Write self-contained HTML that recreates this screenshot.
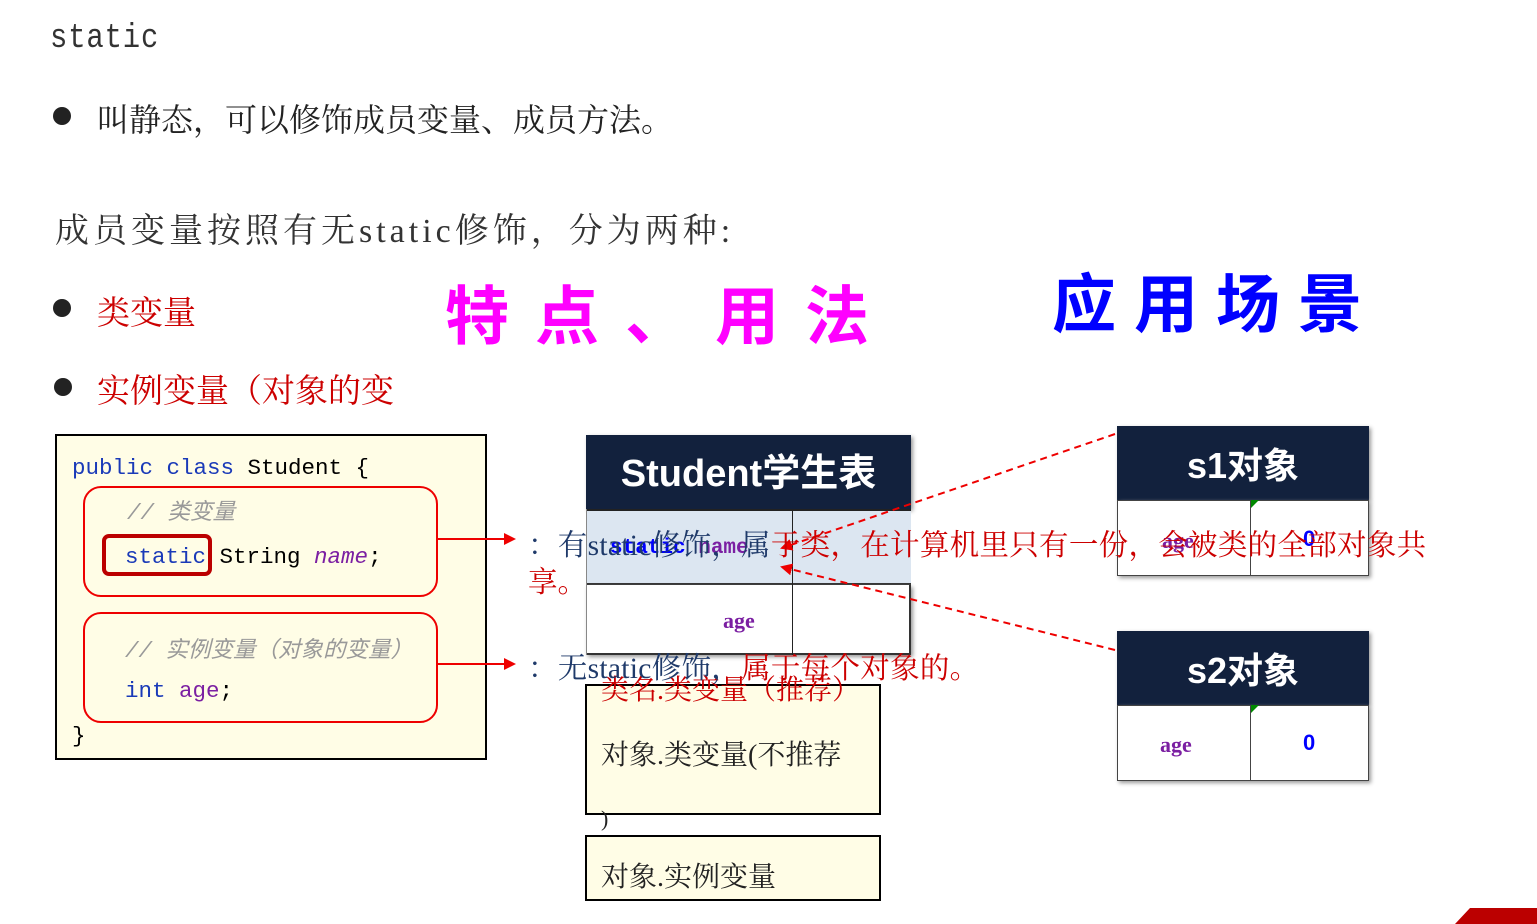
<!DOCTYPE html>
<html><head><meta charset="utf-8">
<style>
body{margin:0;width:1537px;height:924px;background:#fff;position:relative;overflow:hidden;font-family:"Liberation Serif","Noto Serif CJK SC",serif;}
.a{position:absolute;white-space:nowrap;}
.dot{position:absolute;width:18px;height:18px;border-radius:50%;background:#222;}
.mono{font-family:"Liberation Mono","Noto Sans CJK SC",monospace;}
.sans{font-family:"Liberation Sans","Noto Sans CJK SC",sans-serif;}
.hdr{position:absolute;background:#12213d;color:#fff;font-family:"Liberation Sans","Noto Sans CJK SC",sans-serif;font-weight:bold;text-align:center;box-shadow:2px 2px 4px #999;}
</style></head><body>
<div class="a" style="left:50px;top:20px;font-size:34px;color:#333;font-family:'Liberation Mono',monospace;letter-spacing:1px;transform:scaleX(0.85);transform-origin:left">static</div>
<div class="dot" style="left:53px;top:107px"></div>
<div class="a" style="left:97px;top:95px;font-size:32px;color:#222">叫静态，可以修饰成员变量、成员方法。</div>
<div class="a" style="left:55px;top:203px;font-size:34px;color:#333;letter-spacing:4px">成员变量按照有无static修饰，分为两种:</div>
<div class="dot" style="left:53px;top:299px"></div>
<div class="a" style="left:97px;top:287px;font-size:33px;color:#c00">类变量</div>
<div class="dot" style="left:54px;top:378px"></div>
<div class="a" style="left:97px;top:365px;font-size:33px;color:#c00">实例变量（对象的变</div>
<div class="a sans" style="left:445px;top:266px;font-size:64px;color:#f0f;font-weight:bold;letter-spacing:26px">特点、用法</div>
<div class="a sans" style="left:1052px;top:254px;font-size:64px;color:#00f;font-weight:bold;letter-spacing:18px">应用场景</div>

<!-- code box -->
<div class="a" style="left:55px;top:434px;width:428px;height:322px;border:2px solid #000;background:#fffde6"></div>
<div class="a mono" style="left:72px;top:455px;font-size:22.5px"><span style="color:#1a3ab8">public class</span> Student {</div>
<div class="a" style="left:83px;top:486px;width:351px;height:107px;border:2px solid #e00;border-radius:18px"></div>
<div class="a mono" style="left:127px;top:494px;font-size:22.5px;color:#999;font-style:italic">// 类变量</div>
<div class="a" style="left:102px;top:534px;width:110px;height:42px;border:4px solid #b00;border-radius:7px;box-sizing:border-box"></div>
<div class="a mono" style="left:125px;top:544px;font-size:22.5px"><span style="color:#1a3ab8">static</span> String <i style="color:#7b1fa2">name</i>;</div>
<div class="a" style="left:83px;top:612px;width:351px;height:107px;border:2px solid #e00;border-radius:18px"></div>
<div class="a mono" style="left:125px;top:632px;font-size:22.5px;color:#999;font-style:italic">// 实例变量（对象的变量）</div>
<div class="a mono" style="left:125px;top:678px;font-size:22.5px"><span style="color:#1a3ab8">int</span> <span style="color:#7b1fa2">age</span>;</div>
<div class="a mono" style="left:72px;top:723px;font-size:22.5px">}</div>

<!-- Student table -->
<div class="hdr" style="left:586px;top:435px;width:325px;height:74px;line-height:78px;font-size:38px">Student学生表</div>
<div class="a" style="left:586px;top:509px;width:325px;height:76px;background:#dce6f1;border-top:2px solid #222;border-bottom:2px solid #333;box-sizing:border-box"></div>
<div class="a" style="left:586px;top:585px;width:325px;height:70px;background:#fff;border-bottom:2px solid #333;border-right:2px solid #333;box-sizing:border-box;box-shadow:2px 2px 4px #999"></div>
<div class="a" style="left:792px;top:509px;width:1px;height:146px;background:#222"></div>
<div class="a" style="left:586px;top:509px;width:1px;height:146px;background:#888"></div>
<div class="a mono" style="left:610px;top:537px;font-size:21px;color:#00f;font-weight:bold">static <span style="color:#7b1fa2">name</span></div>
<div class="a" style="left:723px;top:608px;font-size:22px;color:#7b1fa2;font-weight:bold">age</div>

<!-- s1 -->
<div class="hdr" style="left:1117px;top:426px;width:252px;height:74px;line-height:80px;font-size:36px">s1对象</div>
<div class="a" style="left:1117px;top:500px;width:252px;height:76px;background:#fff;border:1px solid #444;box-sizing:border-box;box-shadow:2px 2px 4px #999"></div>
<div class="a" style="left:1250px;top:500px;width:1px;height:76px;background:#444"></div>
<div class="a" style="left:1251px;top:500px;width:0;height:0;border-top:8px solid #080;border-right:8px solid transparent"></div>
<div class="a" style="left:1162px;top:528px;font-size:22px;color:#7b1fa2;font-weight:bold">age</div>
<div class="a sans" style="left:1303px;top:526px;font-size:22px;color:#00f;font-weight:bold">0</div>

<!-- s2 -->
<div class="hdr" style="left:1117px;top:631px;width:252px;height:74px;line-height:80px;font-size:36px">s2对象</div>
<div class="a" style="left:1117px;top:705px;width:252px;height:76px;background:#fff;border:1px solid #444;box-sizing:border-box;box-shadow:2px 2px 4px #999"></div>
<div class="a" style="left:1250px;top:705px;width:1px;height:76px;background:#444"></div>
<div class="a" style="left:1251px;top:705px;width:0;height:0;border-top:8px solid #080;border-right:8px solid transparent"></div>
<div class="a" style="left:1160px;top:732px;font-size:22px;color:#7b1fa2;font-weight:bold">age</div>
<div class="a sans" style="left:1303px;top:730px;font-size:22px;color:#00f;font-weight:bold">0</div>

<!-- bottom boxes -->
<div class="a" style="left:585px;top:684px;width:292px;height:127px;border:2px solid #000;background:#fffde6"></div>
<div class="a" style="left:601px;top:733px;font-size:28px;color:#222">对象.类变量(不推荐</div>
<div class="a" style="left:601px;top:806px;font-size:22px;color:#222">)</div>
<div class="a" style="left:585px;top:835px;width:292px;height:62px;border:2px solid #000;background:#fffde6"></div>
<div class="a" style="left:601px;top:855px;font-size:28px;color:#222">对象.实例变量</div>
<div class="a" style="left:601px;top:668px;font-size:28px;color:#c00">类名.类变量（推荐）</div>

<svg class="a" style="left:0;top:0" width="1537" height="924">
<defs><marker id="m" markerWidth="6" markerHeight="6" refX="5" refY="3" orient="auto"><path d="M0,0L6,3L0,6z" fill="#e00"/></marker></defs>
<line x1="436" y1="539" x2="514" y2="539" stroke="#e00" stroke-width="2" marker-end="url(#m)"/>
<line x1="436" y1="664" x2="514" y2="664" stroke="#e00" stroke-width="2" marker-end="url(#m)"/>
<line x1="1115" y1="434" x2="782" y2="548" stroke="#e00" stroke-width="2" stroke-dasharray="7,5" marker-end="url(#m)"/>
<line x1="1115" y1="650" x2="782" y2="567" stroke="#e00" stroke-width="2" stroke-dasharray="7,5" marker-end="url(#m)"/>
<path d="M1455,924 L1470,908 L1537,908 L1537,924z" fill="#b00"/>
</svg>

<div class="a" style="left:528px;top:522px;font-size:29.5px;color:#1f3a6a;letter-spacing:0.3px">：有static修饰，属<span style="color:#c00">于类，在计算机里只有一份，会被类的全部对象共</span></div>
<div class="a" style="left:528px;top:559px;font-size:29.5px;color:#c00">享。</div>
<div class="a" style="left:528px;top:645px;font-size:29.5px;color:#1f3a6a;letter-spacing:0.3px">：无static修饰，<span style="color:#c00">属于每个对象的。</span></div>
</body></html>
